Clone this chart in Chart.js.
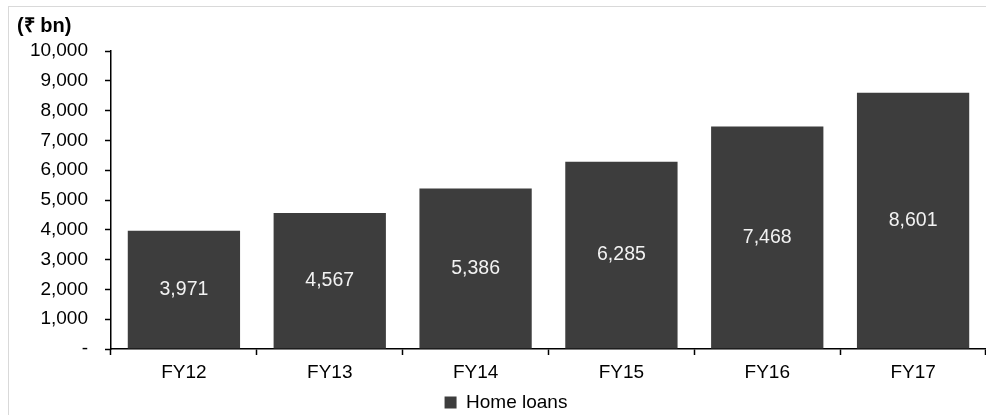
<!DOCTYPE html>
<html>
<head>
<meta charset="utf-8">
<script src="https://cdn.jsdelivr.net/npm/chart.js@4/dist/chart.umd.min.js"></script>
<style>
  html, body { margin: 0; padding: 0; background: #fff; overflow: hidden; }
  #frame {
    position: absolute; left: 8px; top: 6px; width: 1000px; height: 420px;
    border-left: 1px solid #d9d9d9; border-top: 1px solid #d9d9d9;
  }
  #wrap { position: absolute; left: 0; top: 0; width: 986px; height: 415px; }
</style>
</head>
<body>
<div id="frame"></div>
<div id="wrap"><canvas id="loans"></canvas></div>
<script>
  // Home loans outstanding (₹ bn)
  const years = ["FY12", "FY13", "FY14", "FY15", "FY16", "FY17"];
  const homeLoans = [3971, 4567, 5386, 6285, 7468, 8601];
  const unitLabel = "(₹ bn)";

  const fontFamily = "'Liberation Sans', Arial, sans-serif";

  // etiket di tengah batang
  const barLabels = {
    id: "barLabels",
    afterDatasetsDraw(chart) {
      const ctx = chart.ctx;
      const meta = chart.getDatasetMeta(0);
      ctx.save();
      ctx.fillStyle = "#f2f2f2";
      ctx.font = "19.5px " + fontFamily;
      ctx.textAlign = "center";
      ctx.textBaseline = "middle";
      meta.data.forEach((bar, i) => {
        const y = (bar.y + bar.base) / 2;
        ctx.fillText(homeLoans[i].toLocaleString("en-US"), bar.x, y);
      });
      ctx.restore();
    },
  };

  // judul satuan di kiri atas
  const unitTitle = {
    id: "unitTitle",
    afterDraw(chart) {
      const ctx = chart.ctx;
      ctx.save();
      ctx.fillStyle = "#000";
      ctx.font = "bold 20px " + fontFamily;
      ctx.textAlign = "left";
      ctx.textBaseline = "middle";
      ctx.fillText(unitLabel, 17, 26);
      ctx.restore();
    },
  };

  new Chart(document.getElementById("loans"), {
    type: "bar",
    data: {
      labels: years,
      datasets: [
        {
          label: "Home loans",
          data: homeLoans,
          backgroundColor: "#3d3d3d",
          borderWidth: 0,
          barPercentage: 0.77,
          categoryPercentage: 1,
        },
      ],
    },
    options: {
      responsive: true,
      maintainAspectRatio: false,
      animation: false,
      layout: { padding: { left: 26, top: 51, right: 0, bottom: -7 } },
      plugins: {
        title: { display: false },
        tooltip: { enabled: false },
        legend: {
          display: true,
          position: "bottom",
          labels: {
            boxWidth: 12,
            boxHeight: 12,
            padding: 0,
            color: "#000",
            font: { family: fontFamily, size: 19 },
          },
        },
      },
      scales: {
        x: {
          offset: true,
          border: { display: true, color: "#000", width: 1.5 },
          grid: {
            display: true,
            offset: true,
            drawOnChartArea: false,
            drawTicks: true,
            tickLength: 6,
            tickColor: "#000",
            tickWidth: 1.5,
          },
          ticks: {
            color: "#000",
            padding: 6,
            font: { family: fontFamily, size: 19 },
          },
          afterFit(scale) {
            scale.height = 44;
          },
        },
        y: {
          min: 0,
          max: 10000,
          border: { display: true, color: "#000", width: 1.5 },
          grid: {
            display: true,
            drawOnChartArea: false,
            drawTicks: true,
            tickLength: 6,
            tickColor: "#000",
            tickWidth: 1.5,
          },
          ticks: {
            stepSize: 1000,
            color: "#000",
            padding: 17,
            font: { family: fontFamily, size: 19 },
            callback: (v) => (v === 0 ? "-" : v.toLocaleString("en-US")),
          },
          afterFit(scale) {
            scale.width = 85;
          },
        },
      },
    },
    plugins: [barLabels, unitTitle],
  });
</script>
</body>
</html>
